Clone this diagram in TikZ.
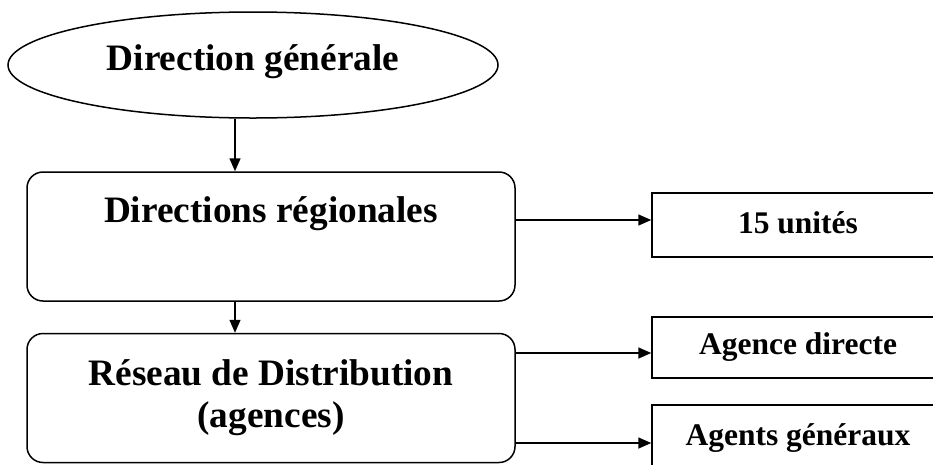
\documentclass[tikz,border=0pt]{standalone}
\usepackage{fontspec}
\setmainfont{Liberation Serif}
\usetikzlibrary{shapes.geometric,arrows.meta}
\begin{document}
\begin{tikzpicture}[x=1pt,y=-1pt,line width=1.5pt,
  arr/.style={-{Triangle[length=13pt,width=11pt]}},
  bigtxt/.style={font=\fontsize{37.3}{42}\selectfont\bfseries,inner sep=0pt,anchor=base},
  smalltxt/.style={font=\fontsize{31.5}{36}\selectfont\bfseries,inner sep=0pt,anchor=base},
  rbox/.style={draw,rectangle,rounded corners=16pt,minimum width=488pt,minimum height=129pt,inner sep=0pt},
  sbox/.style={draw,rectangle,inner sep=0pt,minimum width=293pt}]
\clip (0,0) rectangle (933,464);
% shapes
\node[draw,ellipse,minimum width=490pt,minimum height=106pt,inner sep=0pt] (dg) at (253,65) {};
\node[rbox] (r1) at (271,236.5) {};
\node[rbox] (r2) at (271,398) {};
\node[sbox,minimum height=64pt] (u15) at (798.5,225) {};
\node[sbox,minimum height=61pt] (ad) at (798.5,347.5) {};
\node[sbox,minimum height=70pt] (ag) at (798.5,440) {};
% texts
\node[bigtxt] (tdg) at (253,70) {Direction générale};
\node[bigtxt] (tr1) at (271,222) {Directions régionales};
\node[bigtxt] (tr2a) at (271,385) {Réseau de Distribution};
\node[bigtxt] (tr2b) at (271,427) {(agences)};
\node[smalltxt] (tu15) at (798,233) {15 unités};
\node[smalltxt] (tad) at (798,354) {Agence directe};
\node[smalltxt] (tag) at (798,445) {Agents généraux};
% connectors
\coordinate (vx) at (235,0);
\coordinate (h1) at (0,220);
\coordinate (h2) at (0,353);
\coordinate (h3) at (0,443);
\draw[arr] (dg.south -| vx) -- (r1.north -| vx);
\draw[arr] (r1.south -| vx) -- (r2.north -| vx);
\draw[arr] (r1.east |- h1) -- (u15.west |- h1);
\draw[arr] (r2.east |- h2) -- (ad.west |- h2);
\draw[arr] (r2.east |- h3) -- (ag.west |- h3);
\end{tikzpicture}
\end{document}
